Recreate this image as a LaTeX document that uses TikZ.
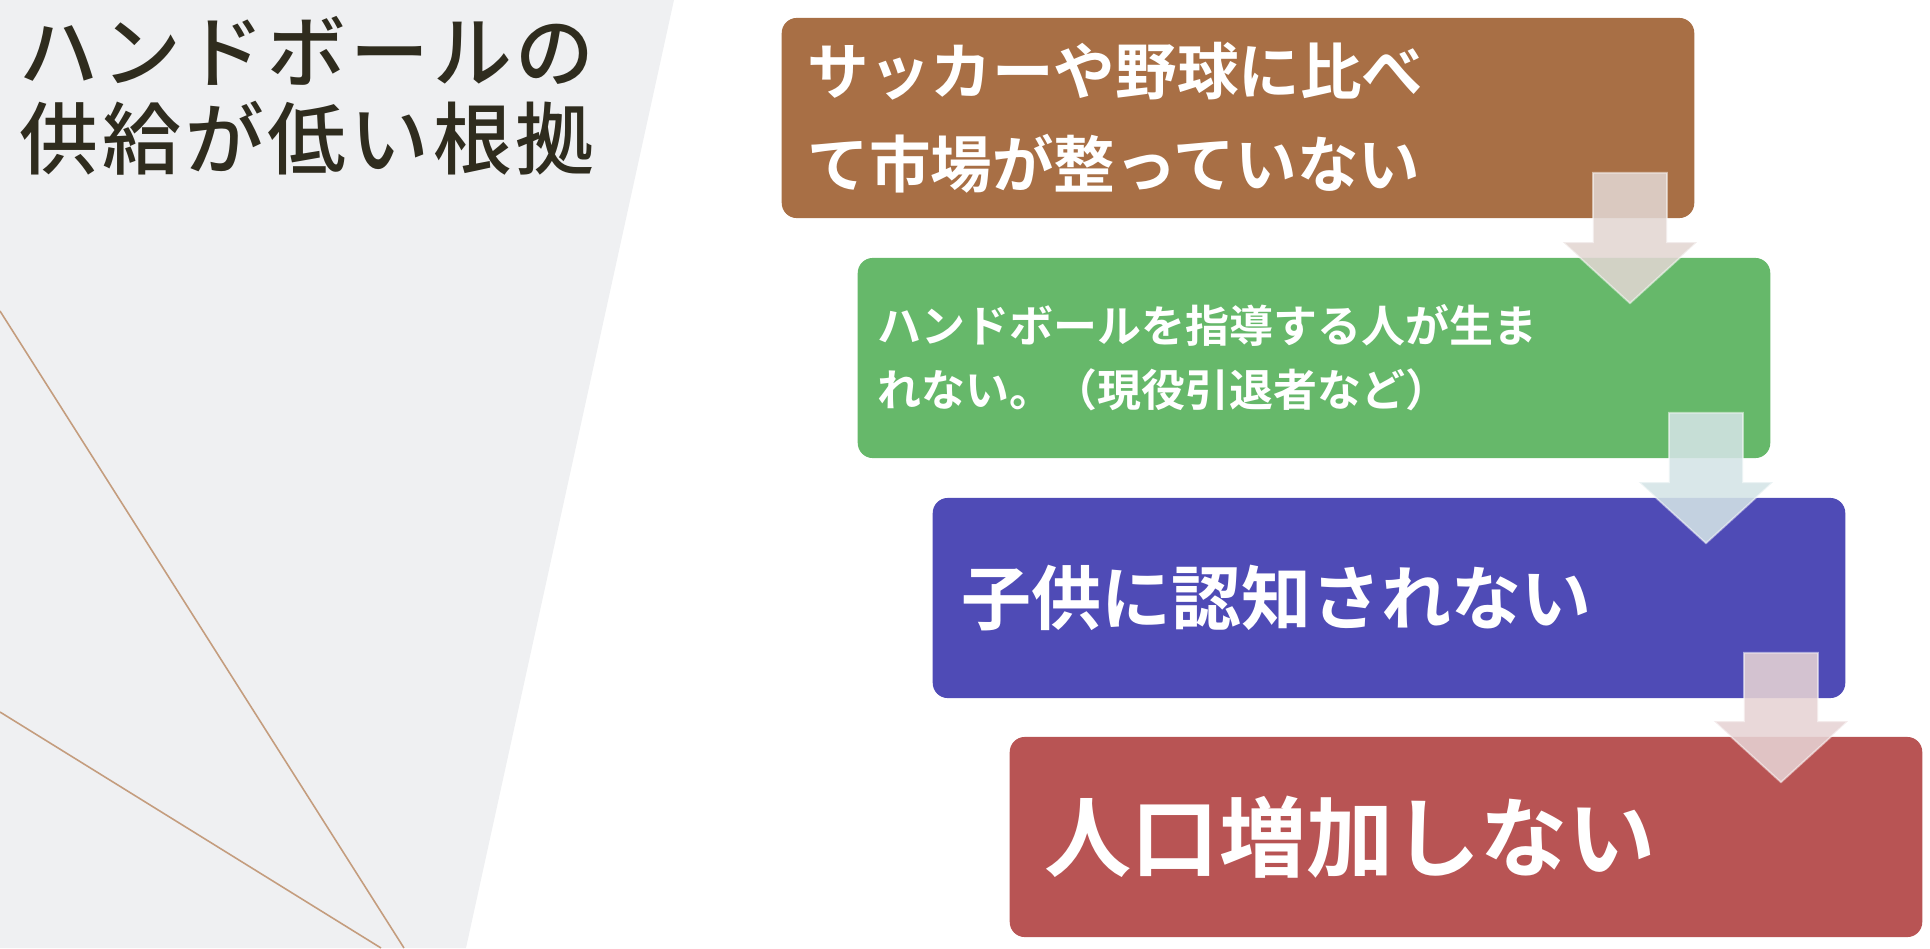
\documentclass[tikz,border=0pt]{standalone}
\usepackage{fontspec}
\setmainfont{Noto Sans CJK JP}[BoldFont={Noto Sans CJK JP Bold}]
\newfontfamily\titlefont{Noto Sans CJK JP Medium}
\usepackage{xcolor}
\usetikzlibrary{calc}
\definecolor{panel}{HTML}{EFF0F2}
\definecolor{rule}{HTML}{C49D7E}
\definecolor{ink}{HTML}{2F2C1E}
\definecolor{brownbox}{HTML}{A86F45}
\definecolor{greenbox}{HTML}{66B86A}
\definecolor{bluebox}{HTML}{4F4BB6}
\definecolor{redbox}{HTML}{B85454}
\definecolor{arrowA}{HTML}{E2D6D2}
\definecolor{arrowB}{HTML}{D4E4E6}
\definecolor{arrowC}{HTML}{E6D3D4}
\tikzset{
  stage/.style={rounded corners=0.15cm, minimum height=2cm, align=left, text=white, font=\bfseries},
  arrowblock/.style={draw=white, draw opacity=0.5, line width=0.5pt, fill opacity=0.88}
}
\newcommand{\flowarrow}[3]{%
  \draw[arrowblock, fill=#3] let \p1=($(#1.south east)+(-65,-46)$), \p2=($(#2.north)+(0,46)$) in
    (\x1-0.37cm,\y1) -- (\x1+0.37cm,\y1) -- (\x1+0.37cm,\y2+0.61cm) -- (\x1+0.67cm,\y2+0.61cm)
    -- (\x1,\y2) -- (\x1-0.67cm,\y2+0.61cm) -- (\x1-0.37cm,\y2+0.61cm) -- cycle;
}
\begin{document}
\begin{tikzpicture}[x=0.01cm,y=-0.01cm]
            \useasboundingbox (0,0) rectangle (1930,948);
            % left panel
            \fill[panel] (0,0) -- (674,0) -- (466,948) -- (0,948) -- cycle;
            \draw[rule, line width=0.45pt] (0,311) -- (404,948);
            \draw[rule, line width=0.45pt] (0,712) -- (381,948);
            \node[anchor=north west, align=left, text=ink, inner sep=0pt,
                font=\titlefont\fontsize{22.4}{24.5}\selectfont\addfontfeature{LetterSpace=5.0}] (title) at (19,16)
                {ハンドボールの\\供給が低い根拠};
            % boxes
            \coordinate (M) at (1238,118);
            \coordinate (C) at (1314,358);
            \coordinate (K) at (1389,598);
            \coordinate (P) at (1466,837);
            \node[stage, fill=brownbox, inner xsep=0.26cm, text width=8.60cm,
                font=\bfseries\fontsize{17.5}{26.5}\selectfont] (market) at (M)
                {サッカーや野球に比べ\\て市場が整っていない};
            \node[stage, fill=greenbox, inner xsep=0.20cm, text width=8.72cm,
                font=\bfseries\fontsize{12.5}{18.2}\selectfont] (coach) at (C)
                {ハンドボールを指導する人が生ま\\れない。（現役引退者など）};
            \node[stage, fill=bluebox, inner xsep=0.29cm, text width=8.54cm,
                font=\bfseries\fontsize{19.9}{24}\selectfont] (kids) at (K)
                {子供に認知されない};
            \node[stage, fill=redbox, inner xsep=0.35cm, text width=8.42cm,
                font=\bfseries\fontsize{24.8}{30}\selectfont] (people) at (P)
                {人口増加しない};
            % arrows
            \flowarrow{market}{coach}{arrowA}
            \flowarrow{coach}{kids}{arrowB}
            \flowarrow{kids}{people}{arrowC}
        \end{tikzpicture}
\end{document}
